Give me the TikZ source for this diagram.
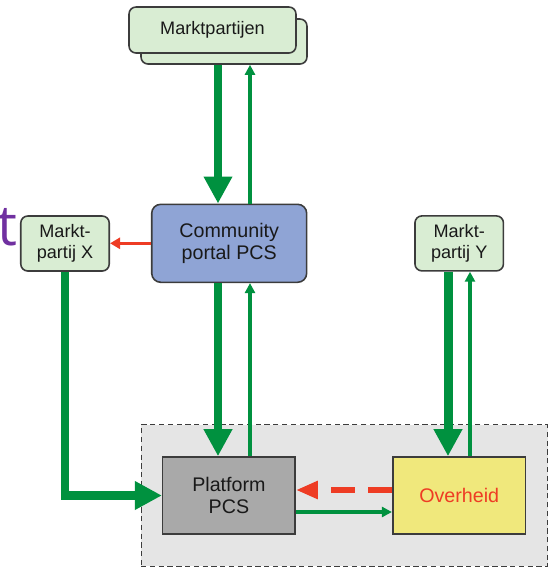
\documentclass[tikz,border=0pt]{standalone}
\usepackage{fontspec}
\setmainfont{Liberation Sans}
\newfontfamily\paarsfont{Open Sans}
\usetikzlibrary{arrows.meta}

\definecolor{lichtgroen}{RGB}{217,237,211}
\definecolor{portaalblauw}{RGB}{143,164,213}
\definecolor{platformgrijs}{RGB}{169,169,169}
\definecolor{geel}{RGB}{240,232,124}
\definecolor{kadergrijs}{RGB}{229,229,229}
\definecolor{rand}{RGB}{60,60,60}
\definecolor{tekst}{RGB}{25,25,25}
\definecolor{pijlgroen}{RGB}{0,145,63}
\definecolor{pijlrood}{RGB}{238,60,36}
\definecolor{paars}{RGB}{112,48,160}

\begin{document}
\begin{tikzpicture}[x=0.02cm, y=-0.02cm,
    blok/.style={draw=rand, line width=0.9pt, inner sep=0pt, align=center, text=tekst},
    partij/.style={blok, fill=lichtgroen, rounded corners=0.14cm,
      font=\fontsize{10.3}{12.3}\selectfont},
    groot/.style={blok, font=\fontsize{11.2}{12.6}\selectfont},
    dik/.style={draw=pijlgroen, line width=0.18cm, -{Triangle[length=0.54cm, width=0.54cm]}},
    dun/.style={draw=pijlgroen, line width=0.08cm, -{Triangle[length=0.2cm, width=0.2cm]}},
    rood/.style={draw=pijlrood, line width=0.06cm, -{Triangle[length=0.2cm, width=0.22cm]}},
    stippel/.style={draw=pijlrood, line width=0.12cm, dash pattern=on 0.48cm off 0.26cm,
      -{Triangle[length=0.44cm, width=0.34cm]}}]
    \useasboundingbox (0,0) rectangle (551,569);

    % kader rond platform en overheid
    \node[draw=rand, line width=0.6pt, dash pattern=on 3pt off 2pt, fill=kadergrijs,
      minimum width=8.13cm, minimum height=2.83cm, inner sep=0pt] (kader) at (344.3,495.7) {};

    \node[partij, minimum width=3.32cm, minimum height=0.9cm] (mpachter) at (224,41.5) {};
    \node[partij, minimum width=3.34cm, minimum height=0.92cm] (mp) at (212.5,30) {Marktpartijen};

    \node[groot, fill=portaalblauw, rounded corners=0.18cm,
      minimum width=3.1cm, minimum height=1.56cm] (cp) at (229.2,243.3) {Community\\portal PCS};
    \node[partij, minimum width=1.77cm, minimum height=1.1cm] (mx) at (65,243.5) {Markt-\\partij X};
    \node[partij, minimum width=1.77cm, minimum height=1.1cm] (my) at (459.2,243.4) {Markt-\\partij Y};

    \node[groot, fill=platformgrijs, minimum width=2.65cm, minimum height=1.54cm] (pf) at (228.9,495.5) {Platform\\PCS};
    \node[groot, fill=geel, text=pijlrood, minimum width=2.66cm, minimum height=1.54cm] (oh) at (459.2,495.5) {Overheid};

    \node[font=\paarsfont\fontsize{32}{32}\selectfont, text=paars, anchor=base west,
      inner sep=0pt] (letter) at (-3,245) {t};

    % banen
    \coordinate (l1) at (218,0);
    \coordinate (l2) at (250,0);
    \coordinate (l3) at (448,0);
    \coordinate (l4) at (470,0);
    \coordinate (h1) at (0,490);
    \coordinate (h2) at (0,512);

    \draw[dik] (mpachter.south -| l1) -- (cp.north -| l1);
    \draw[dun] (cp.north -| l2) -- (mpachter.south -| l2);
    \draw[dik] (cp.south -| l1) -- (pf.north -| l1);
    \draw[dun] (pf.north -| l2) -- (cp.south -| l2);
    \draw[rood] (cp.west) -- (cp.west -| mx.east);

    \draw[dik] (mx.south) |- (pf.west);

    \draw[dik] (my.south -| l3) -- (oh.north -| l3);
    \draw[dun] (oh.north -| l4) -- (my.south -| l4);

    \draw[stippel] (oh.west |- h1) -- (pf.east |- h1);
    \draw[dun] (pf.east |- h2) -- (oh.west |- h2);
  \end{tikzpicture}
\end{document}
